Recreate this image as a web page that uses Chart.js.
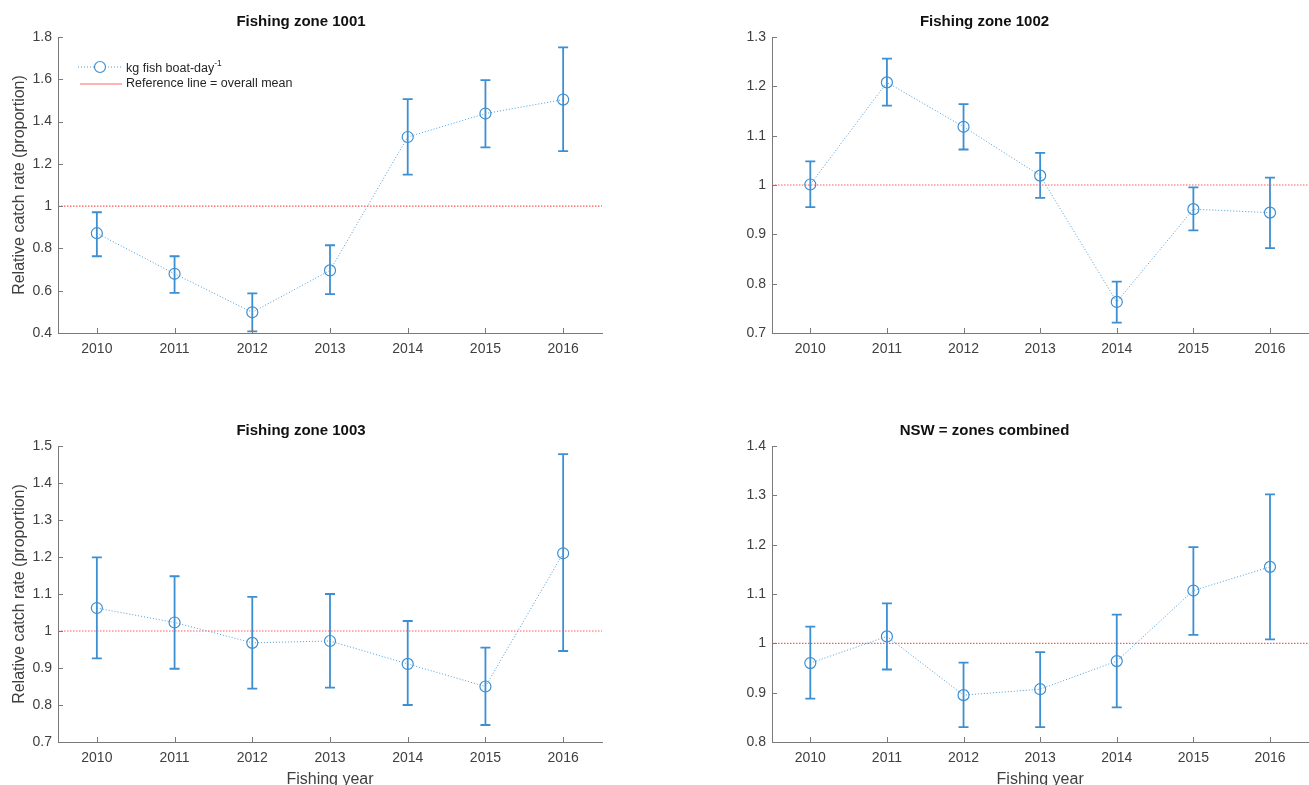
<!DOCTYPE html>
<html>
<head>
<meta charset="utf-8">
<script src="https://cdn.jsdelivr.net/npm/chart.js@4.4.1/dist/chart.umd.min.js"></script>
<style>
  html, body { margin: 0; padding: 0; background: #fff; }
  body { position: relative; width: 1309px; height: 785px; overflow: hidden; font-family: "Liberation Sans", Arial, sans-serif; }
  canvas { position: absolute; }
  #legend { position: absolute; left: 0; top: 0; font-size: 12.5px; color: #262626; }
  #legend .row { position: absolute; white-space: nowrap; }
  #legend svg { position: absolute; }
  #legend sup { font-size: 8.5px; position: relative; top: -1px; }
</style>
</head>
<body>
<canvas id="c1001" width="654" height="409" style="left:0;top:0"></canvas>
<canvas id="c1002" width="661" height="409" style="left:654px;top:0"></canvas>
<canvas id="c1003" width="654" height="376" style="left:0;top:409px"></canvas>
<canvas id="cNSW" width="661" height="376" style="left:654px;top:409px"></canvas>

<div id="legend">
  <svg width="48" height="14" style="left:76px;top:60px">
    <line x1="2" y1="7" x2="46" y2="7" stroke="#4a9bd6" stroke-width="1" stroke-dasharray="1,2"/>
    <circle cx="24" cy="7" r="5.5" fill="#fff" stroke="#3d8fd1" stroke-width="1.2"/>
  </svg>
  <div class="row" style="left:126px;top:59px">kg fish boat-day<sup>-1</sup></div>
  <svg width="48" height="10" style="left:78px;top:79px">
    <line x1="2" y1="5" x2="44" y2="5" stroke="#ff6b6b" stroke-width="1.2"/>
  </svg>
  <div class="row" style="left:126px;top:76px">Reference line = overall mean</div>
</div>

<script>
//年
var YEARS = [2010, 2011, 2012, 2013, 2014, 2015, 2016];
//x軸範囲
var X_MIN = 2009.5;
var X_MAX = 2016.5;
//参照線 = 全体平均
var REF_X = [2009.5, 2016.5];
var REF_Y = [1, 1];

//Fishing zone 1001
var Z1001_MEAN = [0.872, 0.680, 0.498, 0.696, 1.327, 1.438, 1.504];
var Z1001_LO   = [0.763, 0.590, 0.408, 0.584, 1.149, 1.278, 1.260];
var Z1001_HI   = [0.971, 0.763, 0.587, 0.815, 1.506, 1.596, 1.751];
//Fishing zone 1002
var Z1002_MEAN = [1.001, 1.208, 1.118, 1.019, 0.763, 0.951, 0.944];
var Z1002_LO   = [0.955, 1.161, 1.072, 0.974, 0.721, 0.908, 0.872];
var Z1002_HI   = [1.048, 1.256, 1.164, 1.065, 0.804, 0.995, 1.015];
//Fishing zone 1003
var Z1003_MEAN = [1.062, 1.023, 0.968, 0.973, 0.911, 0.850, 1.210];
var Z1003_LO   = [0.926, 0.898, 0.844, 0.847, 0.800, 0.746, 0.946];
var Z1003_HI   = [1.199, 1.148, 1.092, 1.100, 1.027, 0.955, 1.478];
//NSW = zones combined
var NSW_MEAN = [0.960, 1.014, 0.895, 0.907, 0.964, 1.107, 1.155];
var NSW_LO   = [0.888, 0.947, 0.830, 0.830, 0.870, 1.017, 1.008];
var NSW_HI   = [1.034, 1.081, 0.961, 0.982, 1.058, 1.195, 1.302];

var FONT = "'Liberation Sans', Arial, sans-serif";
var AXIS_COLOR = '#7a7a7a';
var TICK_COLOR = '#404040';
var LINE_COLOR = '#4a9bd6';
var BAR_COLOR = '#3d8fd1';
var REF_COLOR = '#ff5a5a';

//エラーバー + 内向きの目盛り
var errorBarPlugin = {
  id: 'errorBars',
  beforeDatasetsDraw: function(chart, args, opts) {
    var ctx = chart.ctx;
    var xs = chart.scales.x, ys = chart.scales.y;
    ctx.save();
    ctx.strokeStyle = BAR_COLOR;
    ctx.lineWidth = 1.8;
    for (let i = 0; i < YEARS.length; i++) {
      let px = xs.getPixelForValue(YEARS[i]);
      let pLo = ys.getPixelForValue(opts.lo[i]);
      let pHi = ys.getPixelForValue(opts.hi[i]);
      ctx.beginPath();
      ctx.moveTo(px, pLo); ctx.lineTo(px, pHi);
      ctx.moveTo(px - 5, pLo); ctx.lineTo(px + 5, pLo);
      ctx.moveTo(px - 5, pHi); ctx.lineTo(px + 5, pHi);
      ctx.stroke();
    }
    ctx.restore();
  },
  afterDraw: function(chart) {
    var ctx = chart.ctx, a = chart.chartArea;
    var xs = chart.scales.x, ys = chart.scales.y;
    ctx.save();
    ctx.strokeStyle = AXIS_COLOR;
    ctx.lineWidth = 1;
    ctx.beginPath();
    xs.ticks.forEach(function(t) {
      let px = Math.round(xs.getPixelForValue(t.value)) + 0.5;
      ctx.moveTo(px, a.bottom); ctx.lineTo(px, a.bottom - 5);
    });
    ys.ticks.forEach(function(t) {
      let py = Math.round(ys.getPixelForValue(t.value)) + 0.5;
      ctx.moveTo(a.left, py); ctx.lineTo(a.left + 5, py);
    });
    ctx.stroke();
    ctx.restore();
  }
};

function MakeChart(id, title, mean, lo, hi, yMin, yMax, yStep, yTitle, xTitle, yWidth, xHeight, padRight) {
  var pts = [];
  for (let i = 0; i < YEARS.length; i++) pts.push({x: YEARS[i], y: mean[i]});
  var ref = [];
  for (let i = 0; i < REF_X.length; i++) ref.push({x: REF_X[i], y: REF_Y[i]});

  return new Chart(document.getElementById(id), {
    type: 'line',
    data: {
      datasets: [
        {
          data: pts,
          borderColor: LINE_COLOR,
          borderWidth: 1,
          borderDash: [1, 2],
          pointStyle: 'circle',
          pointRadius: 5.5,
          pointBorderWidth: 1.2,
          pointBorderColor: BAR_COLOR,
          pointBackgroundColor: 'rgba(255,255,255,0)',
          fill: false,
          tension: 0
        },
        {
          data: ref,
          borderColor: REF_COLOR,
          borderWidth: 1.2,
          borderDash: [1.5, 1.5],
          pointRadius: 0,
          fill: false
        }
      ]
    },
    options: {
      responsive: false,
      animation: false,
      events: [],
      layout: { padding: { left: 0, right: padRight, top: 0, bottom: 0 } },
      plugins: {
        legend: { display: false },
        tooltip: { enabled: false },
        title: {
          display: true,
          text: title,
          color: '#111',
          font: { family: FONT, size: 15, weight: 'bold', lineHeight: 1.2 },
          padding: { top: 13, bottom: 6 }
        },
        errorBars: { lo: lo, hi: hi }
      },
      scales: {
        x: {
          type: 'linear',
          min: X_MIN,
          max: X_MAX,
          grid: { display: false, drawTicks: false },
          border: { display: true, color: AXIS_COLOR, width: 1 },
          afterBuildTicks: function(s) {
            s.ticks = YEARS.map(function(v) { return {value: v}; });
          },
          ticks: {
            autoSkip: false,
            maxRotation: 0,
            padding: 8,
            color: TICK_COLOR,
            font: { family: FONT, size: 14 },
            callback: function(v) { return String(v); }
          },
          title: {
            display: xTitle,
            text: 'Fishing year',
            color: TICK_COLOR,
            padding: 0,
            font: { family: FONT, size: 16, lineHeight: 0.7 }
          },
          afterFit: function(s) { s.height = xHeight; }
        },
        y: {
          min: yMin,
          max: yMax,
          grid: { display: false, drawTicks: false },
          border: { display: true, color: AXIS_COLOR, width: 1 },
          ticks: {
            stepSize: yStep,
            padding: 6,
            color: TICK_COLOR,
            font: { family: FONT, size: 14 },
            callback: function(v) { return String(Number(v.toFixed(1))); }
          },
          title: {
            display: yTitle,
            text: 'Relative catch rate (proportion)',
            color: TICK_COLOR,
            padding: { top: 10, bottom: 0 },
            font: { family: FONT, size: 16, lineHeight: 1.2 }
          },
          afterFit: function(s) { s.width = yWidth; }
        }
      }
    },
    plugins: [errorBarPlugin]
  });
}

MakeChart('c1001', 'Fishing zone 1001', Z1001_MEAN, Z1001_LO, Z1001_HI, 0.4, 1.8, 0.2, true, false, 58, 76, 52);
MakeChart('c1002', 'Fishing zone 1002', Z1002_MEAN, Z1002_LO, Z1002_HI, 0.7, 1.3, 0.1, false, false, 118, 76, 0);
MakeChart('c1003', 'Fishing zone 1003', Z1003_MEAN, Z1003_LO, Z1003_HI, 0.7, 1.5, 0.1, true, true, 58, 43, 52);
MakeChart('cNSW', 'NSW = zones combined', NSW_MEAN, NSW_LO, NSW_HI, 0.8, 1.4, 0.1, false, true, 118, 43, 0);
</script>
</body>
</html>
